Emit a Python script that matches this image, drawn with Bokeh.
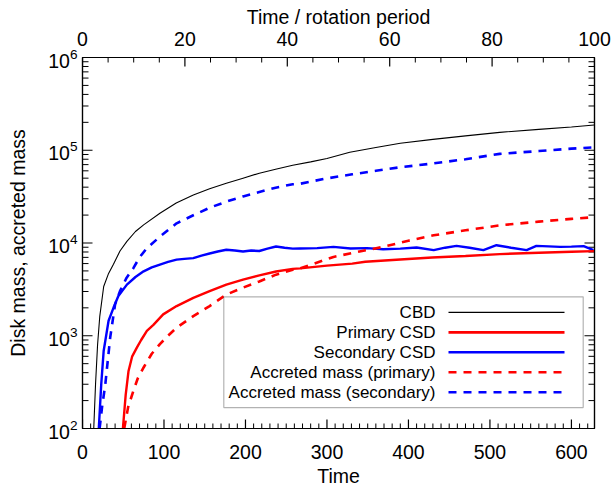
import numpy as np
from bokeh.plotting import figure
from bokeh.models import (Range1d, LinearAxis, LogAxis, FixedTicker, SingleIntervalTicker,
                          LogTickFormatter, BoxAnnotation, Label, Arrow, CustomJSTickFormatter)
from bokeh.embed import file_html
from bokeh.resources import INLINE

# ---------------- data ----------------
t_cbd = [13.8, 16, 18.5, 21.2, 26, 32, 38, 46, 54.5, 65, 75, 95, 115, 136, 156, 176.5, 197, 217,
         237, 258, 280, 300, 328, 360, 390, 430, 470, 512, 560, 600, 628]
m_cbd = [100, 300, 800, 1620, 3400, 4700, 5900, 8200, 10400, 13300, 15700, 20900, 27000, 33000,
         38500, 44100, 50000, 56600, 62500, 69000, 75000, 81400, 95000, 107000, 119000, 131000,
         143000, 156000, 168000, 178000, 187000]

t_sec_acc = [21, 24, 28, 34, 40, 46, 54, 62.6, 70, 79, 95, 115.5, 136, 156, 176.5, 197, 217, 237,
             258, 267, 298.5, 331, 360, 390, 430, 470, 512, 560, 600, 628]
m_sec_acc = [100, 170, 300, 960, 2180, 3030, 4200, 5380, 7000, 8800, 11700, 16300, 19900, 24000,
             27900, 31800, 35500, 39500, 43000, 43500, 49500, 55000, 60000, 65600, 72000, 80000,
             91400, 98000, 104000, 107700]

t_sec_csd = [20, 23, 26, 32, 38, 44, 54.5, 65, 75, 85, 95, 105, 115.5, 125, 136, 146, 156, 166,
             176.5, 187, 197, 207, 217, 227, 237.5, 248, 258, 267, 288, 308, 329, 349, 369, 390,
             410, 431, 445, 459, 475, 492, 508, 526, 545, 557, 572, 586, 600, 615, 627]
m_sec_csd = [100, 300, 690, 1450, 2000, 2680, 3560, 4300, 4950, 5450, 5860, 6250, 6620, 6750,
             6870, 7300, 7700, 8100, 8450, 8300, 8100, 8300, 8200, 8700, 9170, 8900, 8700, 8730,
             8800, 9080, 8730, 8800, 8570, 8700, 8930, 8380, 8900, 9310, 8900, 8380, 9460, 8900,
             8380, 9310, 9200, 9080, 9150, 9250, 8380]

t_pri_csd = [49.6, 53, 56.5, 61, 66.7, 72, 79, 87, 99, 115.5, 136, 156, 176.5, 197, 217, 237.5,
             258, 267, 300, 331, 347, 390, 429, 470, 512, 560, 600, 628]
m_pri_csd = [100, 230, 417, 600, 745, 900, 1130, 1310, 1700, 2090, 2560, 3020, 3560, 4030, 4470,
             4930, 5260, 5320, 5700, 6000, 6270, 6650, 6980, 7250, 7590, 7850, 8050, 8170]

t_pri_acc = [51.2, 56, 62.6, 68, 75, 85, 95, 105, 115.5, 136, 156, 176.5, 197, 217, 237.5, 258,
             267, 308, 340, 369, 400, 431, 470, 512, 560, 600, 628]
m_pri_acc = [100, 170, 257, 350, 455, 640, 813, 1000, 1220, 1630, 2090, 2780, 3300, 3850, 4560,
             5150, 5320, 7080, 8100, 9080, 10600, 12100, 13700, 15500, 17000, 18200, 19000]

legend_labels = ["CBD", "Primary CSD", "Secondary CSD",
                 "Accreted mass (primary)", "Accreted mass (secondary)"]

x_ticks_major = list(range(0, 700, 100))
x_ticks_minor = [v for v in range(0, 630, 10) if v % 100]
top_ticks_major = list(range(0, 120, 20))
top_ticks_minor = [v for v in range(0, 101, 5) if v % 20]
y_major_ticks = [1e2, 1e3, 1e4, 1e5, 1e6]
y_minor_ticks = [k * 10 ** n for n in range(2, 6) for k in range(2, 10)]
rot_period = 2 * np.pi
t_max = 100 * rot_period

# ---------------- layout constants ----------------
W, H = 614, 489
FL, FT, FW, FH = 82, 57, 512, 372          # frame left/top/width/height in canvas px
FONT = "Liberation Sans"
FS = "19.5px"
MAJ, MIN = 9, 5

p = figure(width=W, height=H, x_range=Range1d(0, t_max), y_range=Range1d(1e2, 1e6),
           y_axis_type="log", output_backend="svg", toolbar_location=None,
           min_border_left=FL, min_border_top=FT, min_border_right=W - FL - FW,
           min_border_bottom=H - FT - FH)
p.xgrid.visible = False
p.ygrid.visible = False
p.outline_line_color = "black"
p.outline_line_width = 1.2
p.background_fill_color = "white"
p.border_fill_color = "white"

def xd(px):
    return px / FW * t_max

def yd(py):  # py measured from frame top, downwards
    return 10 ** (6 - 4 * py / FH)

yticker = FixedTicker(ticks=y_major_ticks, minor_ticks=y_minor_ticks)

def style_axis(ax):
    ax.axis_line_color = "black"
    ax.axis_line_width = 1.2
    ax.major_tick_in = 0
    ax.major_tick_out = 0
    ax.minor_tick_in = 0
    ax.minor_tick_out = 0
    ax.major_label_text_font = FONT
    ax.major_label_text_font_size = FS
    ax.major_label_text_color = "black"
    ax.axis_label_text_font = FONT
    ax.axis_label_text_font_size = FS
    ax.axis_label_text_font_style = "normal"
    ax.axis_label_text_color = "black"

yl = p.yaxis[0]
yl.ticker = yticker
yl.formatter = LogTickFormatter()
yl.axis_label = "Disk mass, accreted mass"
yl.major_label_standoff = 5
yl.axis_label_standoff = 16
style_axis(yl)

yr = LogAxis(ticker=yticker, formatter=CustomJSTickFormatter(code="return ''"))
style_axis(yr)
yr.major_label_standoff = 0
p.add_layout(yr, "right")

xb = p.xaxis[0]
xb.ticker = FixedTicker(ticks=x_ticks_major, minor_ticks=x_ticks_minor)
xb.axis_label = "Time"
xb.major_label_standoff = 16
xb.axis_label_standoff = 3
style_axis(xb)

p.extra_x_ranges = {"rot": Range1d(0, t_max / rot_period)}
xt = LinearAxis(x_range_name="rot",
                ticker=FixedTicker(ticks=top_ticks_major, minor_ticks=top_ticks_minor))
xt.axis_label = "Time / rotation period"
style_axis(xt)
xt.major_label_standoff = 12
xt.axis_label_standoff = 1
p.add_layout(xt, "above")

# ---------------- inward tick marks (rays of fixed screen length) ----------------
tick_kw = dict(line_color="black", length_units="screen")
p.ray(x=x_ticks_major, y=[1e2] * len(x_ticks_major), length=MAJ, angle=np.pi / 2, line_width=1.2, **tick_kw)
p.ray(x=x_ticks_minor, y=[1e2] * len(x_ticks_minor), length=MIN, angle=np.pi / 2, line_width=1.0, **tick_kw)
top_major_t = [v * rot_period for v in top_ticks_major]
top_minor_t = [v * rot_period for v in top_ticks_minor]
p.ray(x=top_major_t, y=[1e6] * len(top_major_t), length=MAJ, angle=-np.pi / 2, line_width=1.2, **tick_kw)
p.ray(x=top_minor_t, y=[1e6] * len(top_minor_t), length=MIN, angle=-np.pi / 2, line_width=1.0, **tick_kw)
for x0, ang in ((0, 0.0), (t_max, np.pi)):
    p.ray(x=[x0] * len(y_major_ticks), y=y_major_ticks, length=MAJ + 1, angle=ang, line_width=1.2, **tick_kw)
    p.ray(x=[x0] * len(y_minor_ticks), y=y_minor_ticks, length=MIN + 1, angle=ang, line_width=1.0, **tick_kw)

# ---------------- data lines ----------------
p.line(t_cbd, m_cbd, line_color="black", line_width=1.1)
p.line(t_sec_acc, m_sec_acc, line_color="#0000ff", line_width=2.6, line_dash="8 7")
p.line(t_sec_csd, m_sec_csd, line_color="#0000ff", line_width=2.4)
p.line(t_pri_csd, m_pri_csd, line_color="#ff0000", line_width=2.4)
p.line(t_pri_acc, m_pri_acc, line_color="#ff0000", line_width=2.6, line_dash="8 7")

# ---------------- legend (manual: text left, sample right) ----------------
LX0, LX1, LY0, LY1 = 141.3, 500.7, 240.0, 351.0   # box in frame px
p.add_layout(BoxAnnotation(left=xd(LX0), right=xd(LX1), top=yd(LY0), bottom=yd(LY1),
                           fill_color="white", fill_alpha=1.0, line_color="black",
                           line_width=1.2))
styles = [("black", 1.1, "solid"), ("#ff0000", 2.6, "solid"), ("#0000ff", 2.6, "solid"),
          ("#ff0000", 2.6, "8 7"), ("#0000ff", 2.6, "8 7")]
for i, (lab, (col, lw, dash)) in enumerate(zip(legend_labels, styles)):
    ry = 255.6 + 20 * i
    p.add_layout(Label(x=xd(353), y=yd(ry), text=lab, text_align="right",
                       text_baseline="middle", text_font=FONT, text_font_size="17px",
                       text_color="black"))
    p.add_layout(Arrow(x_start=xd(366), x_end=xd(482), y_start=yd(ry), y_end=yd(ry),
                       end=None, line_color=col, line_width=lw, line_dash=dash))

open("out.html", "w").write(file_html(p, INLINE))
